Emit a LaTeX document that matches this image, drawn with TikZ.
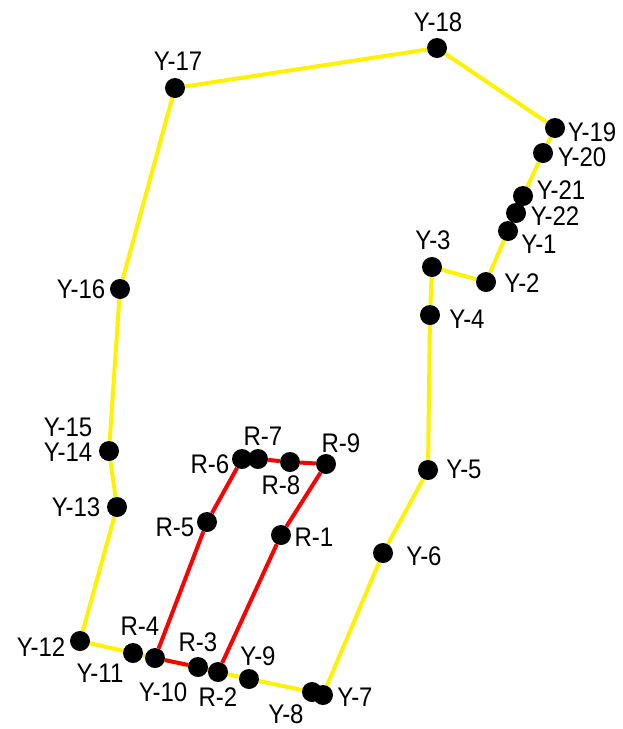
\documentclass[tikz,border=0pt]{standalone}
\usepackage{fontspec}
\setmainfont{Liberation Sans}
\usetikzlibrary{positioning,backgrounds}
\newcommand{\tallname}[1]{\scalebox{1}[1.12]{#1}}

\begin{document}
\begin{tikzpicture}[x=1pt,y=-1pt,
            dot/.style={circle,fill=black,minimum size=20pt,inner sep=0pt},
            lbl/.style={font=\fontsize{24}{24}\selectfont,inner sep=0pt},
            yline/.style={draw=yellow,line width=4pt},
            rline/.style={draw=red,line width=4pt}]
            \useasboundingbox (0,0) rectangle (623,729);

            % yellow route
            \node[dot] (y1)  at (508,231) {};
            \node[dot] (y2)  at (486,282) {};
            \node[dot] (y3)  at (432,267) {};
            \node[dot] (y4)  at (430,315) {};
            \node[dot] (y5)  at (428,470) {};
            \node[dot] (y6)  at (383,553) {};
            \node[dot] (y7)  at (323,695) {};
            \node[dot] (y8)  at (312,692) {};
            \node[dot] (y9)  at (249,679) {};
            \node[dot] (y10) at (155,658) {};
            \node[dot] (y11) at (133,653) {};
            \node[dot] (y12) at (80,641) {};
            \node[dot] (y13) at (117,507) {};
            \node[dot] (y14) at (109,451) {};
            \node[dot] (y16) at (120,289) {};
            \node[dot] (y17) at (175,88) {};
            \node[dot] (y18) at (437,48) {};
            \node[dot] (y19) at (555,128) {};
            \node[dot] (y20) at (543,153) {};
            \node[dot] (y21) at (523,196) {};
            \node[dot] (y22) at (516,213) {};

            % red route
            \node[dot] (r1) at (281,535) {};
            \node[dot] (r2) at (218,672) {};
            \node[dot] (r3) at (198,667) {};
            \node[dot] (r5) at (207,522) {};
            \node[dot] (r6) at (242,459) {};
            \node[dot] (r7) at (258,459) {};
            \node[dot] (r8) at (290,462) {};
            \node[dot] (r9) at (326,464) {};

            \begin{scope}[on background layer]
            \draw[yline] (y1) -- (y2) -- (y3) -- (y4) -- (y5) -- (y6) -- (y7) -- (y8)
                  -- (y9) -- (y10) -- (y11) -- (y12) -- (y13) -- (y14) -- (y16)
                  -- (y17) -- (y18) -- (y19) -- (y20) -- (y21) -- (y22) -- (y1);
            \draw[rline] (r1) -- (r2) -- (r3) -- (y10) -- (r5) -- (r6) -- (r7)
                  -- (r8) -- (r9) -- (r1);
            \end{scope}

            % labels
            \node[lbl] (ty1)  at (539,244) {\tallname{Y-1}};
            \node[lbl] (ty2)  at (522,283) {\tallname{Y-2}};
            \node[lbl] (ty3)  at (433,240) {\tallname{Y-3}};
            \node[lbl] (ty4)  at (467,319) {\tallname{Y-4}};
            \node[lbl] (ty5)  at (464,469) {\tallname{Y-5}};
            \node[lbl] (ty6)  at (424,556) {\tallname{Y-6}};
            \node[lbl] (ty7)  at (355,697) {\tallname{Y-7}};
            \node[lbl] (ty8)  at (286,714) {\tallname{Y-8}};
            \node[lbl] (ty9)  at (258,656) {\tallname{Y-9}};
            \node[lbl] (ty10) at (163,692) {\tallname{Y-10}};
            \node[lbl] (ty11) at (100,673) {\tallname{Y-11}};
            \node[lbl] (ty12) at (41,647) {\tallname{Y-12}};
            \node[lbl] (ty13) at (76,507) {\tallname{Y-13}};
            \node[lbl] (ty14) at (68,452) {\tallname{Y-14}};
            \node[lbl] (ty15) at (68,427) {\tallname{Y-15}};
            \node[lbl] (ty16) at (81,289) {\tallname{Y-16}};
            \node[lbl] (ty17) at (178,61) {\tallname{Y-17}};
            \node[lbl] (ty18) at (438,22) {\tallname{Y-18}};
            \node[lbl] (ty19) at (592,132) {\tallname{Y-19}};
            \node[lbl] (ty20) at (582,157) {\tallname{Y-20}};
            \node[lbl] (ty21) at (561,190) {\tallname{Y-21}};
            \node[lbl] (ty22) at (555,216) {\tallname{Y-22}};
            \node[lbl] (tr1) at (314,537) {\tallname{R-1}};
            \node[lbl] (tr2) at (218,697) {\tallname{R-2}};
            \node[lbl] (tr3) at (198,642) {\tallname{R-3}};
            \node[lbl] (tr4) at (140,626) {\tallname{R-4}};
            \node[lbl] (tr5) at (175,527) {\tallname{R-5}};
            \node[lbl] (tr6) at (210,464) {\tallname{R-6}};
            \node[lbl] (tr7) at (263,436) {\tallname{R-7}};
            \node[lbl] (tr8) at (281,485) {\tallname{R-8}};
            \node[lbl] (tr9) at (341,443) {\tallname{R-9}};
\end{tikzpicture}
\end{document}
